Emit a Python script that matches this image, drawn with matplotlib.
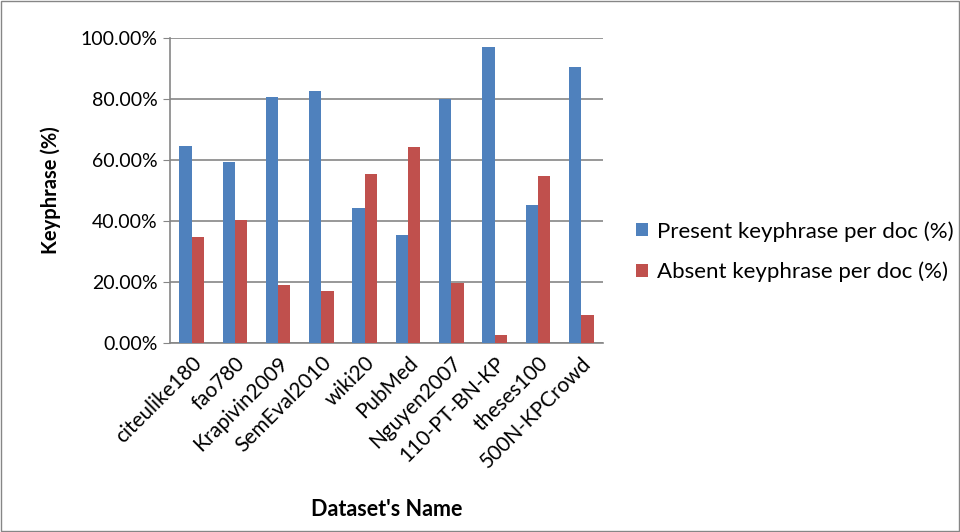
import matplotlib.pyplot as plt
import numpy as np
from matplotlib.ticker import FuncFormatter
from matplotlib.patches import Rectangle

names = ['citeulike180', 'fao780', 'Krapivin2009', 'SemEval2010', 'wiki20',
         'PubMed', 'Nguyen2007', '110-PT-BN-KP', 'theses100', '500N-KPCrowd']
present = [64.6, 59.2, 80.6, 82.5, 44.2, 35.3, 79.8, 96.9, 45.1, 90.5]
absent = [34.8, 40.3, 19.1, 17.2, 55.4, 64.3, 19.8, 2.7, 54.6, 9.1]

plt.rcParams['font.family'] = ['Lato', 'DejaVu Sans']

fig = plt.figure(figsize=(9.6, 5.32), dpi=100)
ax = fig.add_axes([0.177, 0.355, 0.451, 0.574])

x = np.arange(len(names))
w = 0.285
ax.bar(x - w/2, present, w, color='#4F81BD', label='Present keyphrase per doc (%)', zorder=3)
ax.bar(x + w/2, absent, w, color='#C0504D', label='Absent keyphrase per doc (%)', zorder=3)

ax.set_xlim(-0.5, len(names) - 0.5)
ax.set_ylim(0, 100)
ax.set_yticks(np.arange(0, 101, 20))
ax.yaxis.set_major_formatter(FuncFormatter(lambda v, p: '%.2f%%' % v))
ax.grid(axis='y', color='#868686', linewidth=1.2, zorder=0)
for s in ['top', 'right']:
    ax.spines[s].set_visible(False)
ax.spines['left'].set_color('#868686')
ax.spines['bottom'].set_color('#868686')
ax.spines['left'].set_linewidth(1.2)
ax.spines['bottom'].set_linewidth(1.2)
ax.tick_params(axis='y', length=5, color='#868686', labelsize=14, pad=4)
ax.tick_params(axis='x', length=0, labelsize=15, pad=7)
ax.set_xticks(x)
ax.set_xticklabels(names, rotation=45, ha='right', rotation_mode='anchor')

ax.set_ylabel('Keyphrase (%)', fontsize=14.5, fontweight='bold', labelpad=14)
ax.set_xlabel("Dataset's Name", fontsize=15.5, fontweight='bold', labelpad=20)

ax.legend(loc='center left', bbox_to_anchor=(1.03, 0.30), frameon=False,
          fontsize=16, handlelength=0.55, handleheight=0.55, handletextpad=0.4,
          labelspacing=0.9)

fig.patches.append(Rectangle((0.001, 0.001), 0.998, 0.998, transform=fig.transFigure,
                             fill=False, edgecolor='#868686', linewidth=1))

fig.savefig('out.png', dpi=100)
